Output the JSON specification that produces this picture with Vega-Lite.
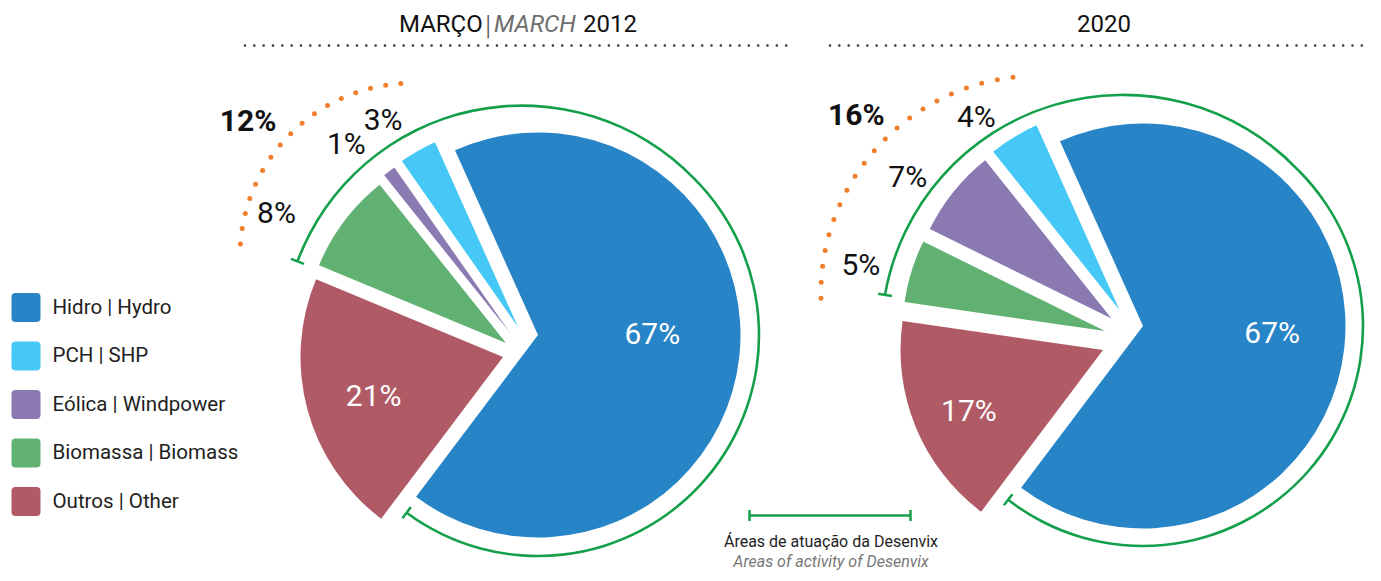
{
  "$schema": "https://vega.github.io/schema/vega-lite/v6.json",
  "width": 1381,
  "height": 581,
  "autosize": {"type": "fit", "contains": "padding"},
  "padding": 0,
  "background": "white",
  "config": {"view": {"stroke": null}},
  "resolve": {"scale": {"theta": "independent"}},
  "datasets": {
    "pie": [
      {"year": "2012", "cat": "Hidro", "value": 0.67, "ord": 1},
      {"year": "2012", "cat": "PCH", "value": 0.03, "ord": 2},
      {"year": "2012", "cat": "Eólica", "value": 0.01, "ord": 3},
      {"year": "2012", "cat": "Biomassa", "value": 0.08, "ord": 4},
      {"year": "2012", "cat": "Outros", "value": 0.21, "ord": 5},
      {"year": "2020", "cat": "Hidro", "value": 0.67, "ord": 1},
      {"year": "2020", "cat": "PCH", "value": 0.04, "ord": 2},
      {"year": "2020", "cat": "Eólica", "value": 0.07, "ord": 3},
      {"year": "2020", "cat": "Biomassa", "value": 0.05, "ord": 4},
      {"year": "2020", "cat": "Outros", "value": 0.17, "ord": 5}
    ]
  },
  "layer": [
    {
      "data": {"values": [{}]},
      "mark": {"type": "rule", "stroke": "#333333", "strokeWidth": 2.6, "strokeCap": "round", "strokeDash": [0, 9.33]},
      "encoding": {
        "x": {"datum": 245, "type": "quantitative", "scale": {"domain": [0, 1381], "nice": false, "zero": false}, "axis": null},
        "x2": {"datum": 790},
        "y": {"datum": 45.5, "type": "quantitative", "scale": {"domain": [0, 581], "reverse": true, "nice": false, "zero": false}, "axis": null}
      }
    },
    {
      "data": {"values": [{}]},
      "mark": {"type": "rule", "stroke": "#333333", "strokeWidth": 2.6, "strokeCap": "round", "strokeDash": [0, 9.33]},
      "encoding": {
        "x": {"datum": 830, "type": "quantitative", "axis": null},
        "x2": {"datum": 1370},
        "y": {"datum": 45.5, "type": "quantitative", "axis": null}
      }
    },
    {
      "data": {"values": [{"t": "MARÇO"}]},
      "mark": {"type": "text", "align": "left", "baseline": "alphabetic", "font": "Roboto", "fontSize": 24, "color": "#111111"},
      "encoding": {
        "x": {"datum": 399, "type": "quantitative", "axis": null},
        "y": {"datum": 32, "type": "quantitative", "axis": null},
        "text": {"field": "t"}
      }
    },
    {
      "data": {"values": [{"t": "|"}]},
      "mark": {"type": "text", "align": "center", "baseline": "alphabetic", "font": "Roboto", "fontWeight": 300, "fontSize": 28, "color": "#555555"},
      "encoding": {
        "x": {"datum": 488, "type": "quantitative", "axis": null},
        "y": {"datum": 35, "type": "quantitative", "axis": null},
        "text": {"field": "t"}
      }
    },
    {
      "data": {"values": [{"t": "MARCH"}]},
      "mark": {"type": "text", "align": "left", "baseline": "alphabetic", "font": "Roboto", "fontStyle": "italic", "fontSize": 24, "color": "#6e6e6e"},
      "encoding": {
        "x": {"datum": 494, "type": "quantitative", "axis": null},
        "y": {"datum": 32, "type": "quantitative", "axis": null},
        "text": {"field": "t"}
      }
    },
    {
      "data": {"values": [{"t": "2012"}]},
      "mark": {"type": "text", "align": "left", "baseline": "alphabetic", "font": "Roboto", "fontSize": 24, "color": "#111111"},
      "encoding": {
        "x": {"datum": 583, "type": "quantitative", "axis": null},
        "y": {"datum": 32, "type": "quantitative", "axis": null},
        "text": {"field": "t"}
      }
    },
    {
      "data": {"values": [{"t": "2020"}]},
      "mark": {"type": "text", "align": "center", "baseline": "alphabetic", "font": "Roboto", "fontSize": 24, "color": "#111111"},
      "encoding": {
        "x": {"datum": 1104, "type": "quantitative", "axis": null},
        "y": {"datum": 32, "type": "quantitative", "axis": null},
        "text": {"field": "t"}
      }
    },
    {
      "data": {"name": "pie"},
      "transform": [
        {"filter": "datum.year=='2012'"},
        {"stack": "value", "groupby": ["year"], "sort": [{"field": "ord", "order": "descending"}], "as": ["v0", "v1"]},
        {"filter": "datum.cat=='Hidro'"}
      ],
      "mark": {"type": "arc", "outerRadius": 202.5},
      "encoding": {
        "x": {"datum": 538, "type": "quantitative", "axis": null},
        "y": {"datum": 335, "type": "quantitative", "axis": null},
        "theta": {"field": "v0", "type": "quantitative", "stack": null, "scale": {"domain": [0, 1], "range": [3.7874, 10.0706]}},
        "theta2": {"field": "v1"},
        "color": {
          "field": "cat", "type": "nominal",
          "scale": {"domain": ["Hidro", "PCH", "Eólica", "Biomassa", "Outros"], "range": ["#2784c6", "#46c8f6", "#8b79b1", "#61b272", "#b05a66"]},
          "legend": {
            "orient": "none", "legendX": 11.5, "legendY": 293, "title": null, "padding": 0,
            "symbolType": "M-0.72,-1L0.72,-1Q1,-1,1,-0.72L1,0.72Q1,1,0.72,1L-0.72,1Q-1,1,-1,0.72L-1,-0.72Q-1,-1,-0.72,-1Z",
            "symbolSize": 841, "symbolStrokeWidth": 0, "symbolOpacity": 1,
            "labelFont": "Roboto", "labelFontSize": 20.5, "labelColor": "#1e1e1e", "labelOffset": 12, "rowPadding": 19.5,
            "labelLimit": 400,
            "labelExpr": "datum.label=='Hidro'?'Hidro | Hydro':datum.label=='PCH'?'PCH | SHP':datum.label=='Eólica'?'Eólica | Windpower':datum.label=='Biomassa'?'Biomassa | Biomass':'Outros | Other'"
          }
        }
      }
    },
    {
      "data": {"name": "pie"},
      "transform": [
        {"filter": "datum.year=='2012'"},
        {"stack": "value", "groupby": ["year"], "sort": [{"field": "ord", "order": "descending"}], "as": ["v0", "v1"]},
        {"filter": "datum.cat=='Outros'"}
      ],
      "mark": {"type": "arc", "outerRadius": 202.5},
      "encoding": {
        "x": {"datum": 503, "type": "quantitative", "axis": null},
        "y": {"datum": 357, "type": "quantitative", "axis": null},
        "theta": {"field": "v0", "type": "quantitative", "stack": null, "scale": {"domain": [0, 1], "range": [3.7874, 10.0706]}},
        "theta2": {"field": "v1"},
        "color": {"field": "cat", "type": "nominal"}
      }
    },
    {
      "data": {"name": "pie"},
      "transform": [
        {"filter": "datum.year=='2012'"},
        {"stack": "value", "groupby": ["year"], "sort": [{"field": "ord", "order": "descending"}], "as": ["v0", "v1"]},
        {"filter": "datum.cat=='Biomassa'"}
      ],
      "mark": {"type": "arc", "outerRadius": 202.5},
      "encoding": {
        "x": {"datum": 506, "type": "quantitative", "axis": null},
        "y": {"datum": 343, "type": "quantitative", "axis": null},
        "theta": {"field": "v0", "type": "quantitative", "stack": null, "scale": {"domain": [0, 1], "range": [3.7874, 10.0706]}},
        "theta2": {"field": "v1"},
        "color": {"field": "cat", "type": "nominal"}
      }
    },
    {
      "data": {"name": "pie"},
      "transform": [
        {"filter": "datum.year=='2012'"},
        {"stack": "value", "groupby": ["year"], "sort": [{"field": "ord", "order": "descending"}], "as": ["v0", "v1"]},
        {"filter": "datum.cat=='Eólica'"}
      ],
      "mark": {"type": "arc", "outerRadius": 202.5},
      "encoding": {
        "x": {"datum": 510.5, "type": "quantitative", "axis": null},
        "y": {"datum": 333.5, "type": "quantitative", "axis": null},
        "theta": {"field": "v0", "type": "quantitative", "stack": null, "scale": {"domain": [0, 1], "range": [3.7874, 10.0706]}},
        "theta2": {"field": "v1"},
        "color": {"field": "cat", "type": "nominal"}
      }
    },
    {
      "data": {"name": "pie"},
      "transform": [
        {"filter": "datum.year=='2012'"},
        {"stack": "value", "groupby": ["year"], "sort": [{"field": "ord", "order": "descending"}], "as": ["v0", "v1"]},
        {"filter": "datum.cat=='PCH'"}
      ],
      "mark": {"type": "arc", "outerRadius": 202.5},
      "encoding": {
        "x": {"datum": 518, "type": "quantitative", "axis": null},
        "y": {"datum": 327, "type": "quantitative", "axis": null},
        "theta": {"field": "v0", "type": "quantitative", "stack": null, "scale": {"domain": [0, 1], "range": [3.7874, 10.0706]}},
        "theta2": {"field": "v1"},
        "color": {"field": "cat", "type": "nominal"}
      }
    },
    {
      "data": {"name": "pie"},
      "transform": [
        {"filter": "datum.year=='2020'"},
        {"stack": "value", "groupby": ["year"], "sort": [{"field": "ord", "order": "descending"}], "as": ["v0", "v1"]},
        {"filter": "datum.cat=='Hidro'"}
      ],
      "mark": {"type": "arc", "outerRadius": 202.5},
      "encoding": {
        "x": {"datum": 1143, "type": "quantitative", "axis": null},
        "y": {"datum": 326, "type": "quantitative", "axis": null},
        "theta": {"field": "v0", "type": "quantitative", "stack": null, "scale": {"domain": [0, 1], "range": [3.7874, 10.0706]}},
        "theta2": {"field": "v1"},
        "color": {"field": "cat", "type": "nominal"}
      }
    },
    {
      "data": {"name": "pie"},
      "transform": [
        {"filter": "datum.year=='2020'"},
        {"stack": "value", "groupby": ["year"], "sort": [{"field": "ord", "order": "descending"}], "as": ["v0", "v1"]},
        {"filter": "datum.cat=='Outros'"}
      ],
      "mark": {"type": "arc", "outerRadius": 202.5},
      "encoding": {
        "x": {"datum": 1103, "type": "quantitative", "axis": null},
        "y": {"datum": 350, "type": "quantitative", "axis": null},
        "theta": {"field": "v0", "type": "quantitative", "stack": null, "scale": {"domain": [0, 1], "range": [3.7874, 10.0706]}},
        "theta2": {"field": "v1"},
        "color": {"field": "cat", "type": "nominal"}
      }
    },
    {
      "data": {"name": "pie"},
      "transform": [
        {"filter": "datum.year=='2020'"},
        {"stack": "value", "groupby": ["year"], "sort": [{"field": "ord", "order": "descending"}], "as": ["v0", "v1"]},
        {"filter": "datum.cat=='Biomassa'"}
      ],
      "mark": {"type": "arc", "outerRadius": 202.5},
      "encoding": {
        "x": {"datum": 1105, "type": "quantitative", "axis": null},
        "y": {"datum": 331, "type": "quantitative", "axis": null},
        "theta": {"field": "v0", "type": "quantitative", "stack": null, "scale": {"domain": [0, 1], "range": [3.7874, 10.0706]}},
        "theta2": {"field": "v1"},
        "color": {"field": "cat", "type": "nominal"}
      }
    },
    {
      "data": {"name": "pie"},
      "transform": [
        {"filter": "datum.year=='2020'"},
        {"stack": "value", "groupby": ["year"], "sort": [{"field": "ord", "order": "descending"}], "as": ["v0", "v1"]},
        {"filter": "datum.cat=='Eólica'"}
      ],
      "mark": {"type": "arc", "outerRadius": 202.5},
      "encoding": {
        "x": {"datum": 1111.5, "type": "quantitative", "axis": null},
        "y": {"datum": 318.5, "type": "quantitative", "axis": null},
        "theta": {"field": "v0", "type": "quantitative", "stack": null, "scale": {"domain": [0, 1], "range": [3.7874, 10.0706]}},
        "theta2": {"field": "v1"},
        "color": {"field": "cat", "type": "nominal"}
      }
    },
    {
      "data": {"name": "pie"},
      "transform": [
        {"filter": "datum.year=='2020'"},
        {"stack": "value", "groupby": ["year"], "sort": [{"field": "ord", "order": "descending"}], "as": ["v0", "v1"]},
        {"filter": "datum.cat=='PCH'"}
      ],
      "mark": {"type": "arc", "outerRadius": 202.5},
      "encoding": {
        "x": {"datum": 1119.5, "type": "quantitative", "axis": null},
        "y": {"datum": 310, "type": "quantitative", "axis": null},
        "theta": {"field": "v0", "type": "quantitative", "stack": null, "scale": {"domain": [0, 1], "range": [3.7874, 10.0706]}},
        "theta2": {"field": "v1"},
        "color": {"field": "cat", "type": "nominal"}
      }
    },
    {
      "data": {"name": "pie"},
      "transform": [{"filter": "datum.year=='2012'"}],
      "mark": {"type": "text", "radius": 115, "font": "Roboto", "fontSize": 30, "color": "white", "align": "center", "baseline": "middle"},
      "encoding": {
        "x": {"datum": 538, "type": "quantitative", "axis": null},
        "y": {"datum": 322, "type": "quantitative", "axis": null},
        "theta": {"field": "value", "type": "quantitative", "stack": true, "scale": {"domain": [0, 1], "range": [3.7874, 10.0706]}},
        "order": {"field": "ord", "type": "quantitative", "sort": "descending"},
        "detail": {"field": "cat"},
        "text": {"field": "value", "type": "quantitative", "format": ".0%", "condition": {"test": "datum.cat!='Hidro'", "value": ""}}
      }
    },
    {
      "data": {"name": "pie"},
      "transform": [{"filter": "datum.year=='2012'"}],
      "mark": {"type": "text", "radius": 134, "font": "Roboto", "fontSize": 30, "color": "white", "align": "center", "baseline": "middle"},
      "encoding": {
        "x": {"datum": 503, "type": "quantitative", "axis": null},
        "y": {"datum": 362, "type": "quantitative", "axis": null},
        "theta": {"field": "value", "type": "quantitative", "stack": true, "scale": {"domain": [0, 1], "range": [3.7874, 10.0706]}},
        "order": {"field": "ord", "type": "quantitative", "sort": "descending"},
        "detail": {"field": "cat"},
        "text": {"field": "value", "type": "quantitative", "format": ".0%", "condition": {"test": "datum.cat!='Outros'", "value": ""}}
      }
    },
    {
      "data": {"name": "pie"},
      "transform": [{"filter": "datum.year=='2020'"}],
      "mark": {"type": "text", "radius": 130, "font": "Roboto", "fontSize": 30, "color": "white", "align": "center", "baseline": "middle"},
      "encoding": {
        "x": {"datum": 1143, "type": "quantitative", "axis": null},
        "y": {"datum": 320, "type": "quantitative", "axis": null},
        "theta": {"field": "value", "type": "quantitative", "stack": true, "scale": {"domain": [0, 1], "range": [3.7874, 10.0706]}},
        "order": {"field": "ord", "type": "quantitative", "sort": "descending"},
        "detail": {"field": "cat"},
        "text": {"field": "value", "type": "quantitative", "format": ".0%", "condition": {"test": "datum.cat!='Hidro'", "value": ""}}
      }
    },
    {
      "data": {"name": "pie"},
      "transform": [{"filter": "datum.year=='2020'"}],
      "mark": {"type": "text", "radius": 145, "font": "Roboto", "fontSize": 30, "color": "white", "align": "center", "baseline": "middle"},
      "encoding": {
        "x": {"datum": 1103, "type": "quantitative", "axis": null},
        "y": {"datum": 357, "type": "quantitative", "axis": null},
        "theta": {"field": "value", "type": "quantitative", "stack": true, "scale": {"domain": [0, 1], "range": [3.7874, 10.0706]}},
        "order": {"field": "ord", "type": "quantitative", "sort": "descending"},
        "detail": {"field": "cat"},
        "text": {"field": "value", "type": "quantitative", "format": ".0%", "condition": {"test": "datum.cat!='Outros'", "value": ""}}
      }
    },
    {
      "data": {"name": "pie"},
      "transform": [{"filter": "datum.year=='2012'"}],
      "mark": {"type": "text", "radius": 350, "font": "Roboto", "fontSize": 30, "color": "#111111", "align": "center", "baseline": "middle"},
      "encoding": {
        "x": {"datum": 556, "type": "quantitative", "axis": null},
        "y": {"datum": 425, "type": "quantitative", "axis": null},
        "theta": {"field": "value", "type": "quantitative", "stack": true, "scale": {"domain": [0, 1], "range": [3.7874, 10.0706]}},
        "order": {"field": "ord", "type": "quantitative", "sort": "descending"},
        "detail": {"field": "cat"},
        "text": {"field": "value", "type": "quantitative", "format": ".0%", "condition": {"test": "datum.cat=='Hidro'||datum.cat=='Outros'", "value": ""}}
      }
    },
    {
      "data": {"name": "pie"},
      "transform": [{"filter": "datum.year=='2020'"}],
      "mark": {"type": "text", "radius": 266, "font": "Roboto", "fontSize": 30, "color": "#111111", "align": "center", "baseline": "middle"},
      "encoding": {
        "x": {"datum": 1115, "type": "quantitative", "axis": null},
        "y": {"datum": 345, "type": "quantitative", "axis": null},
        "theta": {"field": "value", "type": "quantitative", "stack": true, "scale": {"domain": [0, 1], "range": [3.7874, 10.0706]}},
        "order": {"field": "ord", "type": "quantitative", "sort": "descending"},
        "detail": {"field": "cat"},
        "text": {"field": "value", "type": "quantitative", "format": ".0%", "condition": {"test": "datum.cat=='Hidro'||datum.cat=='Outros'", "value": ""}}
      }
    },
    {
      "data": {"name": "pie"},
      "transform": [
        {"filter": "datum.year=='2012'"},
        {"stack": "value", "groupby": ["year"], "sort": [{"field": "ord", "order": "descending"}], "as": ["v0", "v1"]},
        {"filter": "datum.cat!='Outros'&&datum.cat!='Hidro'"},
        {"aggregate": [{"op": "min", "field": "v0", "as": "a0"}, {"op": "max", "field": "v1", "as": "a1"}], "groupby": ["year"]}
      ],
      "mark": {"type": "arc", "outerRadius": 241, "innerRadius": 238.4, "fill": "#14a04b"},
      "encoding": {
        "x": {"datum": 522, "type": "quantitative", "axis": null},
        "y": {"datum": 345.3, "type": "quantitative", "axis": null},
        "theta": {"field": "a0", "type": "quantitative", "stack": null, "scale": {"domain": [0, 1], "range": [1.5423, 18.3413]}},
        "theta2": {"field": "a1"}
      }
    },
    {
      "data": {"name": "pie"},
      "transform": [
        {"filter": "datum.year=='2012'"},
        {"stack": "value", "groupby": ["year"], "sort": [{"field": "ord", "order": "descending"}], "as": ["v0", "v1"]},
        {"filter": "datum.cat=='Biomassa'"}
      ],
      "mark": {"type": "arc", "outerRadius": 246.7, "innerRadius": 232.7, "filled": false, "stroke": "#14a04b", "strokeWidth": 2.5},
      "encoding": {
        "x": {"datum": 522, "type": "quantitative", "axis": null},
        "y": {"datum": 345.3, "type": "quantitative", "axis": null},
        "theta": {"field": "v0", "type": "quantitative", "stack": null, "scale": {"domain": [0, 1], "range": [1.5423, 18.3413]}},
        "theta2": {"field": "v0"}
      }
    },
    {
      "data": {"name": "pie"},
      "transform": [
        {"filter": "datum.year=='2012'"},
        {"stack": "value", "groupby": ["year"], "sort": [{"field": "ord", "order": "descending"}], "as": ["v0", "v1"]},
        {"filter": "datum.cat=='Hidro'"}
      ],
      "mark": {"type": "arc", "outerRadius": 222.3, "innerRadius": 219.7, "fill": "#14a04b"},
      "encoding": {
        "x": {"datum": 538, "type": "quantitative", "axis": null},
        "y": {"datum": 335, "type": "quantitative", "axis": null},
        "theta": {"field": "v0", "type": "quantitative", "stack": null, "scale": {"domain": [0, 1], "range": [-0.6894, 3.7781]}},
        "theta2": {"field": "v1"}
      }
    },
    {
      "data": {"name": "pie"},
      "transform": [
        {"filter": "datum.year=='2012'"},
        {"stack": "value", "groupby": ["year"], "sort": [{"field": "ord", "order": "descending"}], "as": ["v0", "v1"]},
        {"filter": "datum.cat=='Hidro'"}
      ],
      "mark": {"type": "arc", "outerRadius": 228, "innerRadius": 214, "filled": false, "stroke": "#14a04b", "strokeWidth": 2.5},
      "encoding": {
        "x": {"datum": 538, "type": "quantitative", "axis": null},
        "y": {"datum": 335, "type": "quantitative", "axis": null},
        "theta": {"field": "v1", "type": "quantitative", "stack": null, "scale": {"domain": [0, 1], "range": [-0.6894, 3.7781]}},
        "theta2": {"field": "v1"}
      }
    },
    {
      "data": {"name": "pie"},
      "transform": [
        {"filter": "datum.year=='2020'"},
        {"stack": "value", "groupby": ["year"], "sort": [{"field": "ord", "order": "descending"}], "as": ["v0", "v1"]},
        {"filter": "datum.cat!='Outros'&&datum.cat!='Hidro'"},
        {"aggregate": [{"op": "min", "field": "v0", "as": "a0"}, {"op": "max", "field": "v1", "as": "a1"}], "groupby": ["year"]}
      ],
      "mark": {"type": "arc", "outerRadius": 242.9, "innerRadius": 240.3, "fill": "#14a04b"},
      "encoding": {
        "x": {"datum": 1123, "type": "quantitative", "axis": null},
        "y": {"datum": 336.5, "type": "quantitative", "axis": null},
        "theta": {"field": "a0", "type": "quantitative", "stack": null, "scale": {"domain": [0, 1], "range": [2.536, 16.357]}},
        "theta2": {"field": "a1"}
      }
    },
    {
      "data": {"name": "pie"},
      "transform": [
        {"filter": "datum.year=='2020'"},
        {"stack": "value", "groupby": ["year"], "sort": [{"field": "ord", "order": "descending"}], "as": ["v0", "v1"]},
        {"filter": "datum.cat=='Biomassa'"}
      ],
      "mark": {"type": "arc", "outerRadius": 248.6, "innerRadius": 234.6, "filled": false, "stroke": "#14a04b", "strokeWidth": 2.5},
      "encoding": {
        "x": {"datum": 1123, "type": "quantitative", "axis": null},
        "y": {"datum": 336.5, "type": "quantitative", "axis": null},
        "theta": {"field": "v0", "type": "quantitative", "stack": null, "scale": {"domain": [0, 1], "range": [2.536, 16.357]}},
        "theta2": {"field": "v0"}
      }
    },
    {
      "data": {"name": "pie"},
      "transform": [
        {"filter": "datum.year=='2020'"},
        {"stack": "value", "groupby": ["year"], "sort": [{"field": "ord", "order": "descending"}], "as": ["v0", "v1"]},
        {"filter": "datum.cat=='Hidro'"}
      ],
      "mark": {"type": "arc", "outerRadius": 221.3, "innerRadius": 218.7, "fill": "#14a04b"},
      "encoding": {
        "x": {"datum": 1143, "type": "quantitative", "axis": null},
        "y": {"datum": 326, "type": "quantitative", "axis": null},
        "theta": {"field": "v0", "type": "quantitative", "stack": null, "scale": {"domain": [0, 1], "range": [-0.6999, 3.8014]}},
        "theta2": {"field": "v1"}
      }
    },
    {
      "data": {"name": "pie"},
      "transform": [
        {"filter": "datum.year=='2020'"},
        {"stack": "value", "groupby": ["year"], "sort": [{"field": "ord", "order": "descending"}], "as": ["v0", "v1"]},
        {"filter": "datum.cat=='Hidro'"}
      ],
      "mark": {"type": "arc", "outerRadius": 227, "innerRadius": 213, "filled": false, "stroke": "#14a04b", "strokeWidth": 2.5},
      "encoding": {
        "x": {"datum": 1143, "type": "quantitative", "axis": null},
        "y": {"datum": 326, "type": "quantitative", "axis": null},
        "theta": {"field": "v1", "type": "quantitative", "stack": null, "scale": {"domain": [0, 1], "range": [-0.6999, 3.8014]}},
        "theta2": {"field": "v1"}
      }
    },
    {
      "data": {"name": "pie"},
      "transform": [
        {"filter": "datum.year=='2012'"},
        {"stack": "value", "groupby": ["year"], "sort": [{"field": "ord", "order": "descending"}], "as": ["v0", "v1"]},
        {"filter": "datum.cat!='Outros'&&datum.cat!='Hidro'"},
        {"aggregate": [{"op": "min", "field": "v0", "as": "a0"}, {"op": "max", "field": "v1", "as": "a1"}], "groupby": ["year"]}
      ],
      "mark": {"type": "arc", "outerRadius": 173, "innerRadius": 173, "filled": false, "stroke": "#f07f2d", "strokeWidth": 5, "strokeCap": "round",
        "strokeDash": [0, 15.475, 0, 15.475, 0, 15.475, 0, 15.475, 0, 15.475, 0, 15.475, 0, 15.475, 0, 15.475, 0, 15.475, 0, 15.475, 0, 15.475, 0, 15.475, 0, 15.475, 0, 15.475, 0, 15.475, 0, 15.475, 0, 3000]},
      "encoding": {
        "x": {"datum": 413, "type": "quantitative", "axis": null},
        "y": {"datum": 256, "type": "quantitative", "axis": null},
        "theta": {"field": "a0", "type": "quantitative", "stack": null, "scale": {"domain": [0, 1], "range": [2.2777, 14.2037]}},
        "theta2": {"field": "a1"}
      }
    },
    {
      "data": {"name": "pie"},
      "transform": [
        {"filter": "datum.year=='2012'"},
        {"filter": "datum.cat!='Outros'&&datum.cat!='Hidro'"},
        {"aggregate": [{"op": "sum", "field": "value", "as": "s"}], "groupby": ["year"]}
      ],
      "mark": {"type": "text", "radius": 358, "font": "Roboto", "fontWeight": "bold", "fontSize": 30, "color": "#111111", "align": "center", "baseline": "middle"},
      "encoding": {
        "x": {"datum": 534, "type": "quantitative", "axis": null},
        "y": {"datum": 337, "type": "quantitative", "axis": null},
        "theta": {"datum": 0.25, "type": "quantitative", "scale": {"domain": [0, 1], "range": [3.7874, 10.0706]}},
        "text": {"field": "s", "type": "quantitative", "format": ".0%"}
      }
    },
    {
      "data": {"name": "pie"},
      "transform": [
        {"filter": "datum.year=='2020'"},
        {"stack": "value", "groupby": ["year"], "sort": [{"field": "ord", "order": "descending"}], "as": ["v0", "v1"]},
        {"filter": "datum.cat!='Outros'&&datum.cat!='Hidro'"},
        {"aggregate": [{"op": "min", "field": "v0", "as": "a0"}, {"op": "max", "field": "v1", "as": "a1"}], "groupby": ["year"]}
      ],
      "mark": {"type": "arc", "outerRadius": 217.6, "innerRadius": 217.6, "filled": false, "stroke": "#f07f2d", "strokeWidth": 5, "strokeCap": "round",
        "strokeDash": [0, 16.065, 0, 16.065, 0, 16.065, 0, 16.065, 0, 16.065, 0, 16.065, 0, 16.065, 0, 16.065, 0, 16.065, 0, 16.065, 0, 16.065, 0, 16.065, 0, 16.065, 0, 16.065, 0, 16.065, 0, 16.065, 0, 16.065, 0, 16.065, 0, 16.065, 0, 16.065, 0, 3000]},
      "encoding": {
        "x": {"datum": 1038.5, "type": "quantitative", "axis": null},
        "y": {"datum": 293.4, "type": "quantitative", "axis": null},
        "theta": {"field": "a0", "type": "quantitative", "stack": null, "scale": {"domain": [0, 1], "range": [3.1207, 12.3491]}},
        "theta2": {"field": "a1"}
      }
    },
    {
      "data": {"name": "pie"},
      "transform": [
        {"filter": "datum.year=='2020'"},
        {"filter": "datum.cat!='Outros'&&datum.cat!='Hidro'"},
        {"aggregate": [{"op": "sum", "field": "value", "as": "s"}], "groupby": ["year"]}
      ],
      "mark": {"type": "text", "radius": 354, "font": "Roboto", "fontWeight": "bold", "fontSize": 30, "color": "#111111", "align": "center", "baseline": "middle"},
      "encoding": {
        "x": {"datum": 1139, "type": "quantitative", "axis": null},
        "y": {"datum": 329, "type": "quantitative", "axis": null},
        "theta": {"datum": 0.25, "type": "quantitative", "scale": {"domain": [0, 1], "range": [3.7874, 10.0706]}},
        "text": {"field": "s", "type": "quantitative", "format": ".0%"}
      }
    },
    {
      "data": {"values": [{}]},
      "mark": {"type": "rule", "stroke": "#14a04b", "strokeWidth": 2.5},
      "encoding": {
        "x": {"datum": 749, "type": "quantitative", "axis": null},
        "x2": {"datum": 911},
        "y": {"datum": 515.5, "type": "quantitative", "axis": null}
      }
    },
    {
      "data": {"values": [{}]},
      "mark": {"type": "rule", "stroke": "#14a04b", "strokeWidth": 2.5},
      "encoding": {
        "x": {"datum": 749.5, "type": "quantitative", "axis": null},
        "y": {"datum": 510, "type": "quantitative", "axis": null},
        "y2": {"datum": 521}
      }
    },
    {
      "data": {"values": [{}]},
      "mark": {"type": "rule", "stroke": "#14a04b", "strokeWidth": 2.5},
      "encoding": {
        "x": {"datum": 910.5, "type": "quantitative", "axis": null},
        "y": {"datum": 510, "type": "quantitative", "axis": null},
        "y2": {"datum": 521}
      }
    },
    {
      "data": {"values": [{"t": "Áreas de atuação da Desenvix"}]},
      "mark": {"type": "text", "align": "center", "baseline": "alphabetic", "font": "Roboto", "fontSize": 16, "color": "#1e1e1e"},
      "encoding": {
        "x": {"datum": 831, "type": "quantitative", "axis": null},
        "y": {"datum": 547, "type": "quantitative", "axis": null},
        "text": {"field": "t"}
      }
    },
    {
      "data": {"values": [{"t": "Areas of activity of Desenvix"}]},
      "mark": {"type": "text", "align": "center", "baseline": "alphabetic", "font": "Roboto", "fontStyle": "italic", "fontSize": 16, "color": "#777777"},
      "encoding": {
        "x": {"datum": 831, "type": "quantitative", "axis": null},
        "y": {"datum": 567, "type": "quantitative", "axis": null},
        "text": {"field": "t"}
      }
    }
  ]
}
